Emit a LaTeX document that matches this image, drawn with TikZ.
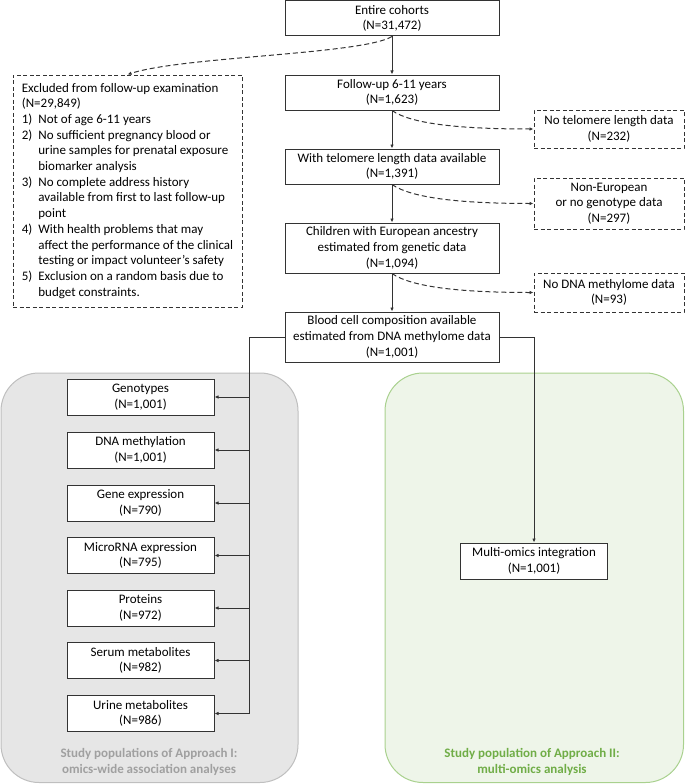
\documentclass[tikz,border=0pt]{standalone}
\usepackage{fontspec}
\setmainfont{Carlito}
\usetikzlibrary{arrows.meta}
\definecolor{panelgrey}{HTML}{E6E6E6}
\definecolor{panelgreyline}{HTML}{BFBFBF}
\definecolor{labelgrey}{HTML}{A0A0A0}
\definecolor{panelgreen}{HTML}{EEF5E9}
\definecolor{panelgreenline}{HTML}{A9D18E}
\definecolor{labelgreen}{HTML}{70AD47}
\begin{document}
\begin{tikzpicture}[x=1pt,y=-1pt,
  txt/.style={font=\fontsize{13}{15.7}\selectfont},
  flowbox/.style={draw=black!80, line width=1pt, fill=white, align=center, inner sep=0pt, txt},
  mainbox/.style={flowbox, minimum width=214},
  sidebox/.style={flowbox, dashed, dash pattern=on 4pt off 2.5pt, minimum width=150},
  omicbox/.style={flowbox, minimum width=147, minimum height=36},
  conn/.style={draw=black!80, line width=1pt},
  arr/.style={conn, -{Latex[length=4pt,width=3.5pt]}},
  darr/.style={arr, dash pattern=on 5pt off 3pt},
  panel/.style={rounded corners=38, line width=1pt},
  paneltxt/.style={font=\fontsize{13}{15.7}\selectfont\bfseries, align=center}
]
\useasboundingbox (0,0) rectangle (685,784);

% panels
\path[panel, fill=panelgrey, draw=panelgreyline] (1,373) rectangle (298,782.5);
\path[panel, fill=panelgreen, draw=panelgreenline] (385,373) rectangle (683.5,782.5);
\node[paneltxt, text=labelgrey] (lblI) at (149,762) {Study populations of Approach I:\\omics-wide association analyses};
\node[paneltxt, text=labelgreen] (lblII) at (532,762) {Study population of Approach II:\\multi-omics analysis};

% main column
\node[mainbox, minimum height=35] (entire) at (392,18.5) {Entire cohorts\\(N=31,472)};
\node[mainbox, minimum height=35] (follow) at (392,92.5) {Follow-up 6-11 years\\(N=1,623)};
\node[mainbox, minimum height=35] (telo) at (392,166.5) {With telomere length data available\\(N=1,391)};
\node[mainbox, minimum height=50] (child) at (392,248) {Children with European ancestry\\estimated from genetic data\\(N=1,094)};
\node[mainbox, minimum height=50] (blood) at (392,337) {Blood cell composition available\\estimated from DNA methylome data\\(N=1,001)};

% side exclusions
\node[sidebox, minimum height=38] (notelo) at (609,129) {No telomere length data\\(N=232)};
\node[sidebox, minimum height=51] (noneu) at (609,203.5) {Non-European\\or no genotype data\\(N=297)};
\node[sidebox, minimum height=39] (nodna) at (609,292.5) {No DNA methylome data\\(N=93)};

% excluded box
\node[flowbox, dashed, dash pattern=on 4pt off 2.5pt, minimum width=229, minimum height=232, align=left] (excl) at (127.5,191) {%
\begin{tabular}{@{}l@{\hspace{6pt}}l@{}}
\multicolumn{2}{@{}l@{}}{Excluded from follow-up examination}\\
\multicolumn{2}{@{}l@{}}{(N=29,849)}\\
1) & Not of age 6-11 years\\
2) & No sufficient pregnancy blood or\\
   & urine samples for prenatal exposure\\
   & biomarker analysis\\
3) & No complete address history\\
   & available from first to last follow-up\\
   & point\\
4) & With health problems that may\\
   & affect the performance of the clinical\\
   & testing or impact volunteer's safety\\
5) & Exclusion on a random basis due to\\
   & budget constraints.
\end{tabular}};

% omics boxes
\node[omicbox] (geno) at (140.5,397) {Genotypes\\(N=1,001)};
\node[omicbox] (meth) at (140.5,450) {DNA methylation\\(N=1,001)};
\node[omicbox] (gexp) at (140.5,503) {Gene expression\\(N=790)};
\node[omicbox] (mirna) at (140.5,555.5) {MicroRNA expression\\(N=795)};
\node[omicbox] (prot) at (140.5,608) {Proteins\\(N=972)};
\node[omicbox] (serum) at (140.5,660.5) {Serum metabolites\\(N=982)};
\node[omicbox] (urine) at (140.5,713.5) {Urine metabolites\\(N=986)};
\node[omicbox] (multi) at (534,561) {Multi-omics integration\\(N=1,001)};

% main arrows
\draw[arr] (entire) -- (follow);
\draw[arr] (follow) -- (telo);
\draw[arr] (telo) -- (child);
\draw[arr] (child) -- (blood);

% dashed exclusions
\draw[darr] (entire.south) .. controls +(-30,18) and +(55,-18) .. (excl.north);
\draw[darr] (follow.south) .. controls +(20,14) and +(-70,0) .. (notelo.west);
\draw[darr] (telo.south) .. controls +(20,14) and +(-70,0) .. (noneu.west);
\draw[darr] (child.south) .. controls +(20,14) and +(-70,0) .. (nodna.west);

% bus to omics
\coordinate (busL) at (249,337);
\draw[conn] (blood.west) -- (busL) -- (busL |- urine.east);
\foreach \n in {geno,meth,gexp,mirna,prot,serum,urine}
  \draw[arr] (busL |- \n.east) -- (\n.east);
\draw[arr] (blood.east) -| (multi.north);
\end{tikzpicture}
\end{document}
